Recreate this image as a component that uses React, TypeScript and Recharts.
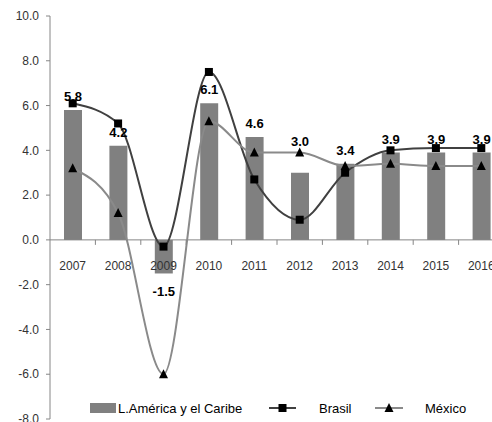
import { ComposedChart, Bar, Line, XAxis, YAxis, ReferenceLine, LabelList } from "recharts"

const years = ["2007", "2008", "2009", "2010", "2011", "2012", "2013", "2014", "2015", "2016"]
const latamValues = [5.8, 4.2, -1.5, 6.1, 4.6, 3.0, 3.4, 3.9, 3.9, 3.9]
const brasilValues = [6.1, 5.2, -0.3, 7.5, 2.7, 0.9, 3.0, 4.0, 4.1, 4.1]
const mexicoValues = [3.2, 1.2, -6.0, 5.3, 3.9, 3.9, 3.3, 3.4, 3.3, 3.3]
const yTicks = [-8, -6, -4, -2, 0, 2, 4, 6, 8, 10]

const Y_MIN = -8
const Y_MAX = 10
const CHART_W = 510
const CHART_H = 440
const MARGIN = { top: 16, right: 6, left: 0, bottom: 20 }
const Y_AXIS_W = 50
const X_AXIS_H = 1
const PLOT_W = CHART_W - Y_AXIS_W - MARGIN.left - MARGIN.right
const PLOT_H = CHART_H - MARGIN.top - MARGIN.bottom - X_AXIS_H
const ZERO_Y = MARGIN.top + (PLOT_H * Y_MAX) / (Y_MAX - Y_MIN)
const BAND = PLOT_W / years.length

const FONT = "'Liberation Sans', Arial, sans-serif"
const AXIS_GRAY = "#868686"
const TEXT = "#333333"

// the 2012 label was moved up by hand in the original so it clears the México line
const labelLift: Record<number, number> = { 5: 18 }

const chartData = years.map((year, i) => ({
  year,
  latam: latamValues[i],
  brasil: brasilValues[i],
  mexico: mexicoValues[i],
}))

// x labels sit under the zero line, tick marks on the category boundaries
const renderYearTick = (props: any) => {
  const { x, payload } = props
  return (
    <g key={`yt-${payload.value}`}>
      <line x1={x + BAND / 2} x2={x + BAND / 2} y1={ZERO_Y} y2={ZERO_Y + 5} stroke={AXIS_GRAY} />
      <text x={x} y={ZERO_Y + 30} textAnchor="middle" fontSize={12} fill={TEXT} fontFamily={FONT}>
        {payload.value}
      </text>
    </g>
  )
}

const BarValueLabel = (props: any) => {
  const { x, y, width, height, value, index } = props
  const top = Math.min(y, y + height)
  const bottom = Math.max(y, y + height)
  const ty = value >= 0 ? top - 9 - (labelLift[index] || 0) : bottom + 23
  return (
    <text x={x + width / 2} y={ty} textAnchor="middle" fontSize={13} fontWeight="bold" fill="#000" fontFamily={FONT}>
      {Number(value).toFixed(1)}
    </text>
  )
}

const SquareDot = (props: any) => {
  const { cx, cy } = props
  if (cx == null || cy == null) return null
  return <rect x={cx - 4} y={cy - 4} width={8} height={8} fill="#000" />
}

const TriangleDot = (props: any) => {
  const { cx, cy } = props
  if (cx == null || cy == null) return null
  return <path d={`M${cx},${cy - 5} L${cx + 4.5},${cy + 4} L${cx - 4.5},${cy + 4} Z`} fill="#000" />
}

const LegendOverlay = () => (
  <svg width={492} height={422} style={{ position: "absolute", left: 0, top: 0, pointerEvents: "none" }}>
    <rect x={90} y={403} width={26} height={10} fill="#808080" />
    <text x={118} y={413} fontSize={13} fill="#000" fontFamily={FONT}>L.América y el Caribe</text>
    <line x1={269} x2={296} y1={408} y2={408} stroke="#404040" strokeWidth={2} />
    <rect x={278.5} y={404} width={8} height={8} fill="#000" />
    <text x={319} y={413} fontSize={13} fill="#000" fontFamily={FONT}>Brasil</text>
    <line x1={375} x2={403} y1={408} y2={408} stroke="#8a8a8a" strokeWidth={2} />
    <path d="M389,403 L393.5,412 L384.5,412 Z" fill="#000" />
    <text x={425} y={413} fontSize={13} fill="#000" fontFamily={FONT}>México</text>
  </svg>
)

const App = () => {
  return (
    <div style={{ position: "absolute", left: 0, top: 0, width: 492, height: 422, overflow: "hidden", background: "#fff" }}>
      <ComposedChart width={CHART_W} height={CHART_H} data={chartData} margin={MARGIN} style={{ fontFamily: FONT }}>
        <XAxis dataKey="year" height={X_AXIS_H} axisLine={false} tickLine={false} tick={renderYearTick} interval={0} />
        <YAxis
          width={Y_AXIS_W}
          domain={[Y_MIN, Y_MAX]}
          ticks={yTicks}
          interval={0}
          tickFormatter={(v) => Number(v).toFixed(1)}
          stroke={AXIS_GRAY}
          tickSize={4}
          tickMargin={7}
          tick={{ fontSize: 12, fill: TEXT }}
          allowDataOverflow
        />
        <ReferenceLine y={0} stroke={AXIS_GRAY} strokeWidth={1} />
        <Bar dataKey="latam" fill="#808080" barSize={18} isAnimationActive={false}>
          <LabelList dataKey="latam" content={<BarValueLabel />} />
        </Bar>
        <Line
          type="monotone"
          dataKey="brasil"
          stroke="#404040"
          strokeWidth={2}
          dot={<SquareDot />}
          activeDot={false}
          isAnimationActive={false}
        />
        <Line
          type="monotone"
          dataKey="mexico"
          stroke="#8a8a8a"
          strokeWidth={2}
          dot={<TriangleDot />}
          activeDot={false}
          isAnimationActive={false}
        />
      </ComposedChart>
      <LegendOverlay />
    </div>
  )
}

export default App
